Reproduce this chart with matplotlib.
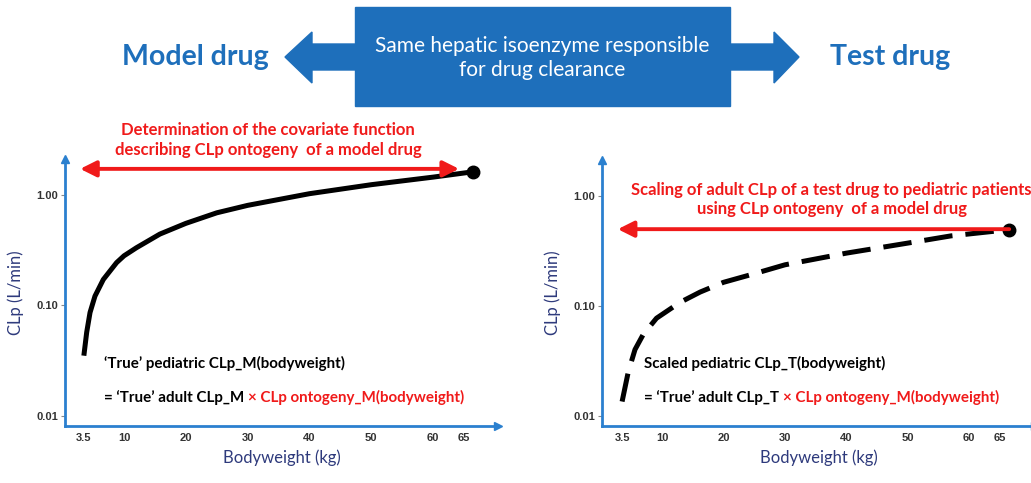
import numpy as np
import matplotlib
matplotlib.use("Agg")
import matplotlib.pyplot as plt
from matplotlib.patches import Polygon, Rectangle

# Valori
bw_model = [3.5, 3.96, 4.5, 5.3, 6.65, 8.8, 10, 12, 15.8, 20, 25, 30, 40, 50, 60, 66.5]
clp_model = [0.035, 0.057, 0.086, 0.121, 0.171, 0.243, 0.28, 0.331, 0.44, 0.55, 0.685, 0.80, 1.02, 1.23, 1.44, 1.61]

bw_test = [3.5, 4.5, 5.6, 6.95, 9.1, 12.9, 16.2, 20, 25, 30, 40, 50, 57, 66.5]
clp_test = [0.0135, 0.025, 0.040, 0.055, 0.077, 0.107, 0.133, 0.163, 0.195, 0.235, 0.30, 0.37, 0.43, 0.49]

x_ticks = [3.5, 10, 20, 30, 40, 50, 60, 65]
x_labels = ["3.5", "10", "20", "30", "40", "50", "60", "65"]
y_ticks = [0.01, 0.1, 1.0]
y_labels = ["0.01", "0.10", "1.00"]

BLUE = "#1E6FBB"
AXBLUE = "#2B80CF"
NAVY = "#2E3A7C"
RED = "#F01A1A"
FONT = "Lato"

W, H = 1031, 483
fig = plt.figure(figsize=(W / 100, H / 100), dpi=100)

# intestazione (box + frecce)
hdr = fig.add_axes([0, 0, 1, 1])
hdr.set_xlim(0, W)
hdr.set_ylim(H, 0)
hdr.axis("off")
hdr.add_patch(Rectangle((355, 7), 375, 99, color=BLUE))
hdr.add_patch(Polygon([(356, 44), (312, 44), (312, 32), (285, 57), (312, 83), (312, 70), (356, 70)], color=BLUE))
hdr.add_patch(Polygon([(729, 44), (774, 44), (774, 32), (799, 57), (774, 83), (774, 70), (729, 70)], color=BLUE))
hdr.text(542, 58, "Same hepatic isoenzyme responsible\nfor drug clearance", color="white",
         ha="center", va="center", fontsize=15, family=FONT, linespacing=1.3)
hdr.text(195, 57, "Model drug", color=BLUE, ha="center", va="center", fontsize=20.5,
         family=FONT, fontweight="bold")
hdr.text(890, 57, "Test drug", color=BLUE, ha="center", va="center", fontsize=20.5,
         family=FONT, fontweight="bold")


def setup_axes(rect, xlim):
    ax = fig.add_axes(rect)
    ax.set_yscale("log")
    ax.set_xlim(*xlim)
    ax.set_ylim(0.0081, 2.1)
    for s in ["top", "right"]:
        ax.spines[s].set_visible(False)
    for s in ["left", "bottom"]:
        ax.spines[s].set_color(AXBLUE)
        ax.spines[s].set_linewidth(2)
    ax.plot([1.0], [0], marker=">", color=AXBLUE, markersize=6, transform=ax.transAxes, clip_on=False)
    ax.plot([0], [1], marker="^", color=AXBLUE, markersize=6, transform=ax.transAxes, clip_on=False)
    ax.set_xticks(x_ticks)
    ax.set_xticklabels(x_labels)
    ax.set_yticks(y_ticks)
    ax.set_yticklabels(y_labels)
    ax.yaxis.set_minor_locator(matplotlib.ticker.NullLocator())
    ax.tick_params(axis="x", length=0, pad=5, labelsize=8, labelcolor="#333333")
    ax.tick_params(axis="y", length=3, width=0.8, color="#888888", pad=2, labelsize=8, labelcolor="#333333")
    for lab in ax.get_xticklabels() + ax.get_yticklabels():
        lab.set_family("Liberation Sans")
        lab.set_fontweight("bold")
    ax.set_xlabel("Bodyweight (kg)", color=NAVY, fontsize=12, family=FONT, labelpad=5)
    ax.set_ylabel("CLp (L/min)", color=NAVY, fontsize=12, family=FONT, labelpad=9)
    ax.patch.set_alpha(0)
    return ax


def formula(ax, x, y1, y2, line1, line2a, line2b):
    ax.text(x, y1, line1, fontsize=10.9, fontweight="bold", family=FONT, va="center")
    t = ax.text(x, y2, line2a, fontsize=10.9, fontweight="bold", family=FONT, va="center")
    ax.annotate(line2b, xy=(1, 0.5), xycoords=t, va="center", fontsize=10.9,
                fontweight="bold", family=FONT, color=RED)


arrow_kw = dict(color=RED, lw=2.8, mutation_scale=24, shrinkA=0, shrinkB=0)

# pannello sinistro: farmaco modello
ax1 = setup_axes([65 / W, 57 / H, 433 / W, 267 / H], (0.45, 70.5))
ax1.plot(bw_model, clp_model, color="black", lw=3.6, solid_capstyle="butt", solid_joinstyle="round")
ax1.plot(bw_model[-1], clp_model[-1], "o", color="black", markersize=9)
ax1.annotate("", xy=(2.9, 1.71), xytext=(64.2, 1.71),
             arrowprops=dict(arrowstyle="<|-|>", **arrow_kw), annotation_clip=False)
ax1.text(33.3, 3.13, "Determination of the covariate function\ndescribing CLp ontogeny  of a model drug",
         color=RED, fontsize=12, fontweight="bold", family=FONT, ha="center", va="center",
         linespacing=1.3)
formula(ax1, 6.8, 0.0295, 0.0148, "\u2018True\u2019 pediatric CLp_M(bodyweight)",
        "= \u2018True\u2019 adult CLp_M ", "\u00d7 CLp ontogeny_M(bodyweight)")

# pannello destro: farmaco test
ax2 = setup_axes([602 / W, 57 / H, 433 / W, 266 / H], (0.23, 70.7))
ax2.plot(bw_test, clp_test, color="black", lw=3.6, linestyle=(0, (5.7, 2.6)),
         dash_capstyle="butt", dash_joinstyle="round")
ax2.plot(bw_test[-1], clp_test[-1], "o", color="black", markersize=9)
ax2.annotate("", xy=(2.8, 0.495), xytext=(66.5, 0.495),
             arrowprops=dict(arrowstyle="-|>", **arrow_kw), annotation_clip=False)
ax2.text(37.6, 0.92, "Scaling of adult CLp of a test drug to pediatric patients\nusing CLp ontogeny  of a model drug",
         color=RED, fontsize=12, fontweight="bold", family=FONT, ha="center", va="center",
         linespacing=1.3)
formula(ax2, 7.1, 0.0297, 0.0148, "Scaled pediatric CLp_T(bodyweight)",
        "= \u2018True\u2019 adult CLp_T ", "\u00d7 CLp ontogeny_M(bodyweight)")

fig.savefig("out.png", dpi=100)
